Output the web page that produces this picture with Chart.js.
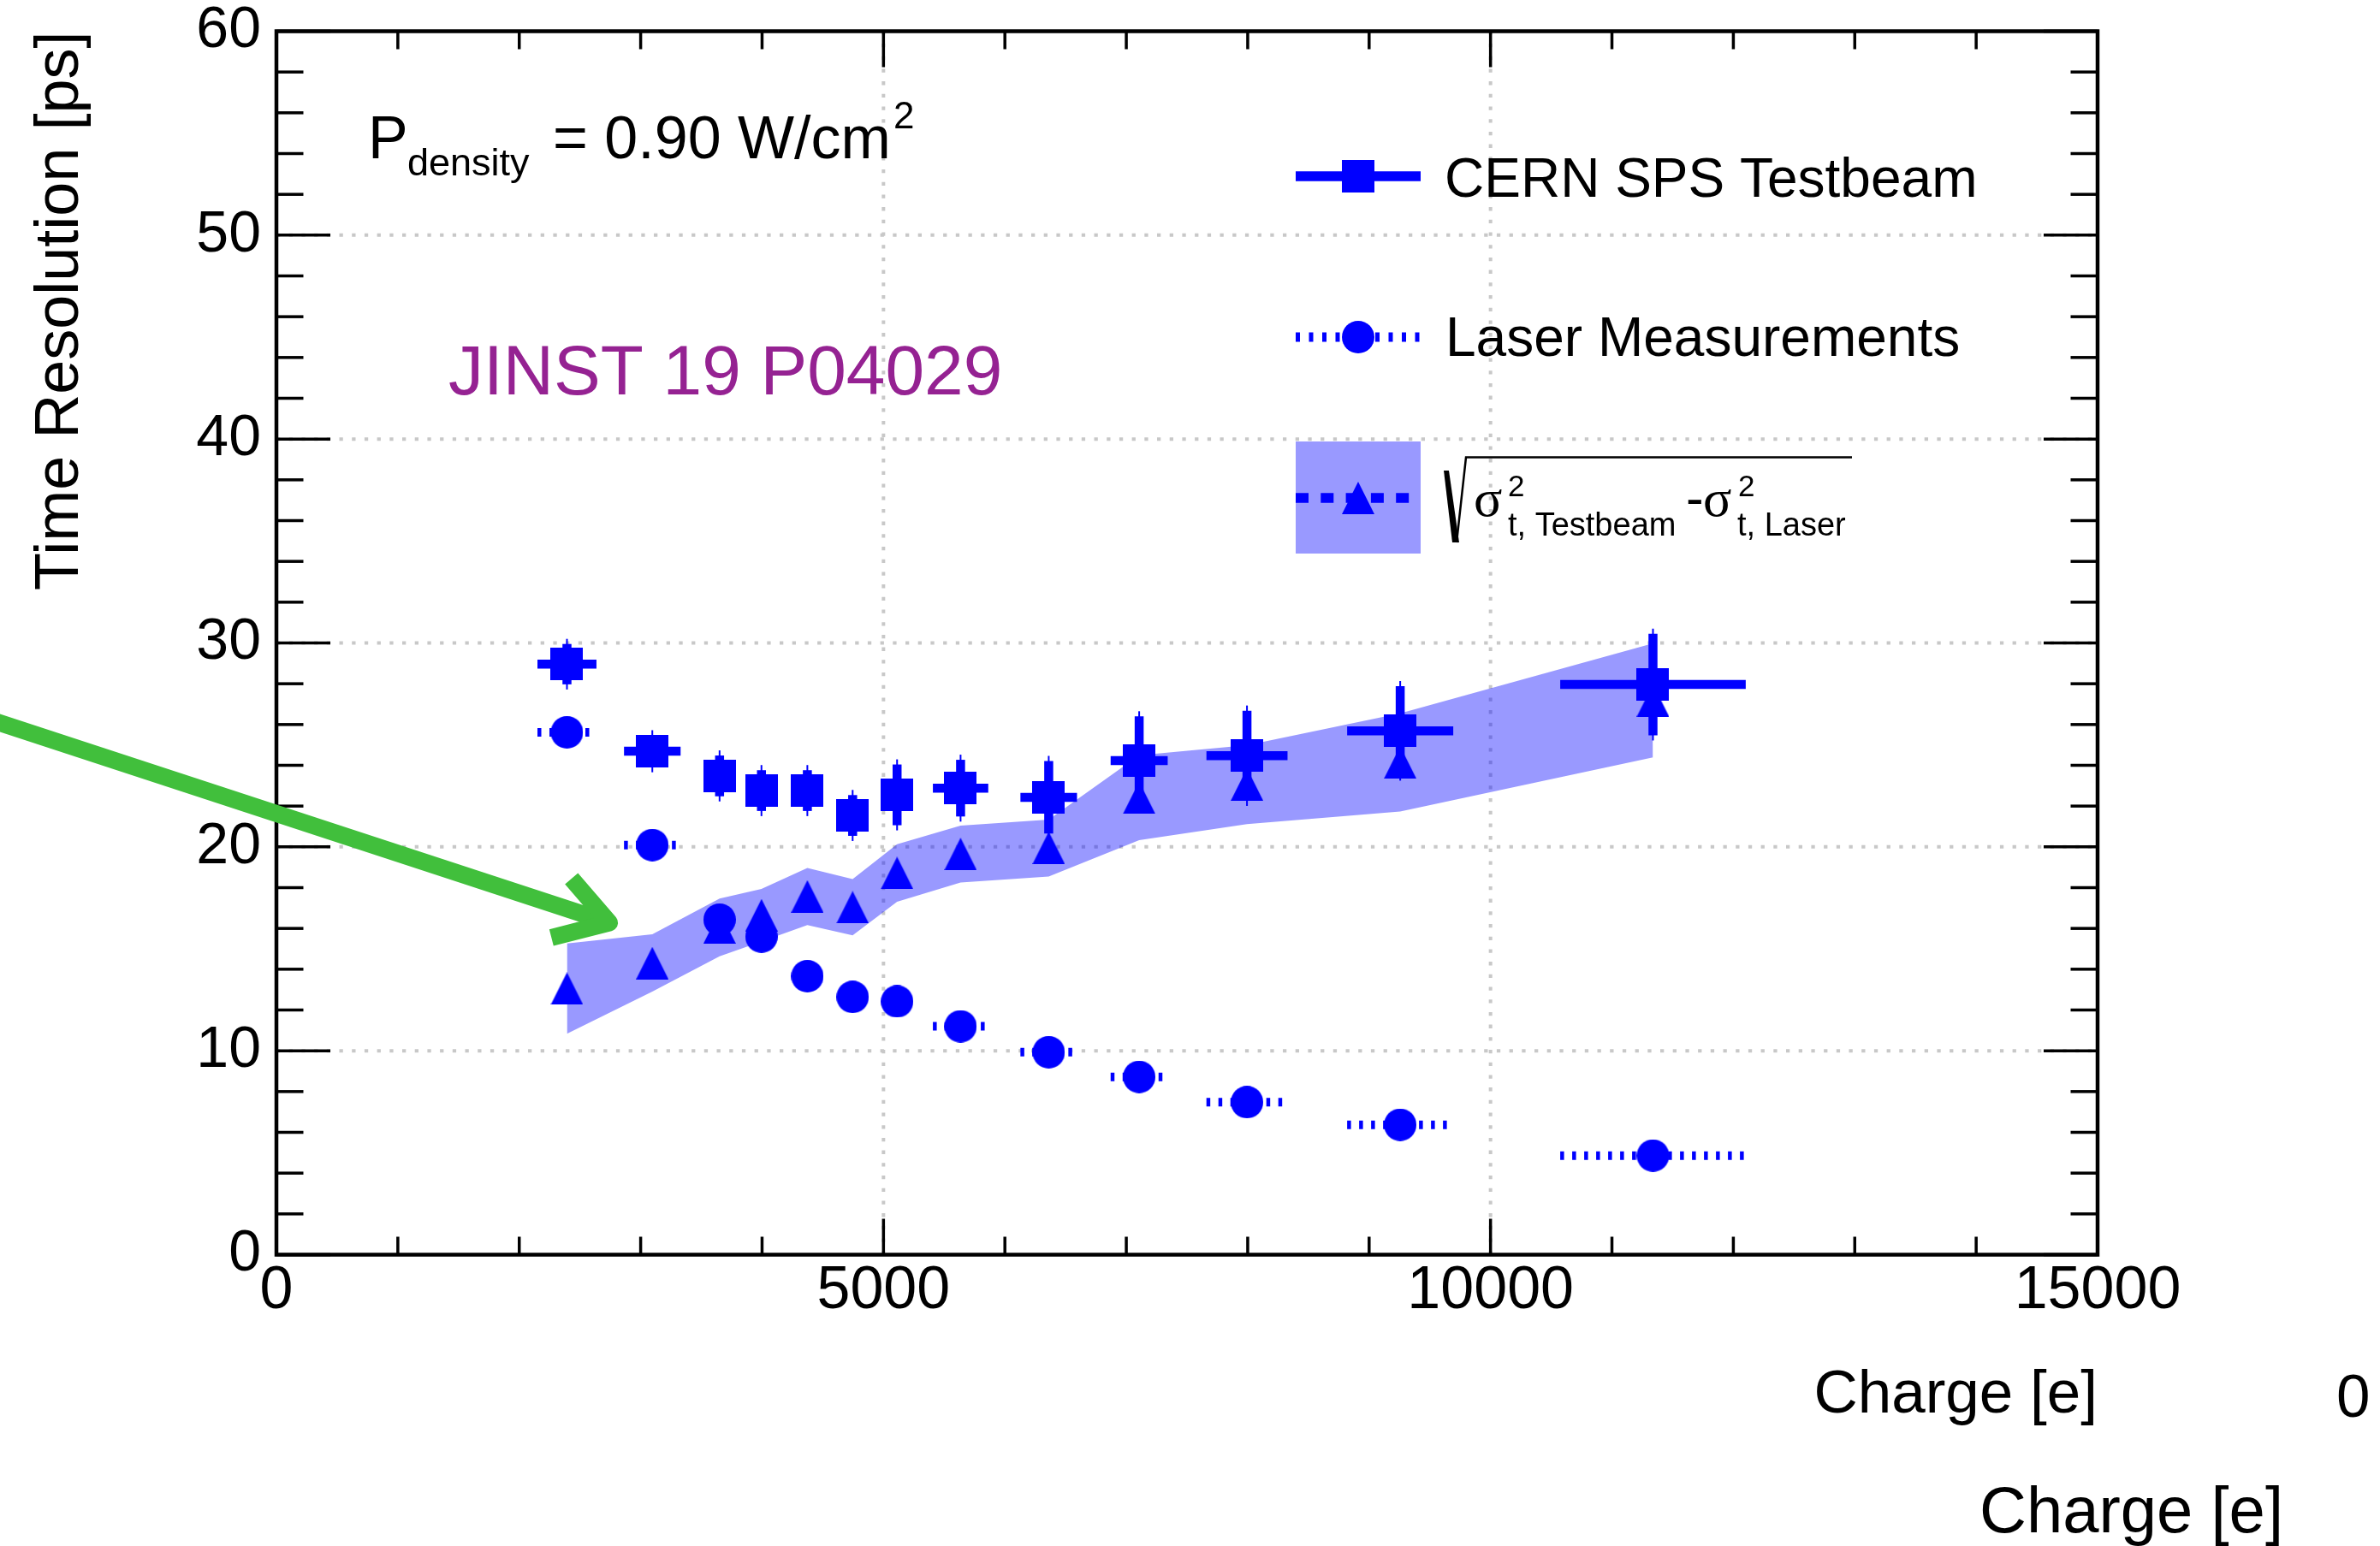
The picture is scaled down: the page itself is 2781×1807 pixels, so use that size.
<!DOCTYPE html>
<html>
<head>
<meta charset="utf-8">
<title>Time Resolution vs Charge</title>
<script src="https://cdn.jsdelivr.net/npm/chart.js@4.4.1/dist/chart.umd.min.js"></script>
<style>
  html, body { margin: 0; padding: 0; background: #fff; }
  #wrap { width: 2781px; height: 1807px; }
</style>
</head>
<body>
<div id="wrap"><canvas id="myChart" width="2781" height="1807"></canvas></div>
<script>
const FONT = '"Liberation Sans", Arial, Helvetica, sans-serif'
const BLUE = '#0000ff'

// charge bins, shared by the three graphs
const charge = [2393, 3096, 3650, 3995, 4373, 4746, 5112, 5635, 6361, 7106, 7994, 9256, 11338]
const chargeErr = [243, 233, 110, 110, 110, 110, 110, 228, 233, 235, 334, 437, 764]

// CERN SPS testbeam
const testbeamRes = [28.96, 24.69, 23.48, 22.76, 22.76, 21.54, 22.55, 22.88, 22.43, 24.23, 24.47, 25.69, 27.96]
const testbeamResErr = [0.99, 0.78, 1.0, 1.0, 1.0, 1.0, 1.49, 1.39, 1.78, 2.17, 2.21, 2.19, 2.49]

// laser measurements
const laserRes = [25.62, 20.09, 16.43, 15.60, 13.66, 12.64, 12.42, 11.20, 9.93, 8.72, 7.48, 6.37, 4.86]

// sqrt(testbeam^2 - laser^2) with its band
const diffRes = [13.05, 14.30, 16.05, 16.65, 17.57, 17.04, 18.72, 19.65, 19.95, 22.41, 23.06, 24.14, 27.18]
const diffLow = [10.84, 12.90, 14.63, 15.36, 16.16, 15.66, 17.31, 18.25, 18.55, 20.33, 21.12, 21.73, 24.39]
const diffHigh = [15.26, 15.71, 17.46, 17.94, 18.97, 18.42, 20.13, 21.04, 21.34, 24.49, 24.99, 26.55, 29.98]

const xTickLabels = [0, 5000, 10000, 15000]
const yTickLabels = [0, 10, 20, 30, 40, 50, 60]

// green annotation arrow, in data coordinates
const arrowTail = [-2500, 26.51]
const arrowTip = [2743, 16.28]

const points = (ys) => charge.map((c, i) => ({x: c, y: ys[i]}))

function makeMarker(shape, w, h) {
    const c = document.createElement('canvas')
    c.width = w
    c.height = h
    const g = c.getContext('2d')
    g.fillStyle = BLUE
    g.beginPath()
    if (shape === 'square') {
        g.rect(0, 0, w, h)
    } else if (shape === 'circle') {
        g.ellipse(w / 2, h / 2, w / 2, h / 2, 0, 0, Math.PI * 2)
    } else {
        g.moveTo(w / 2, 0)
        g.lineTo(w, h)
        g.lineTo(0, h)
        g.closePath()
    }
    g.fill()
    return c
}
const squareMark = makeMarker('square', 38, 38)
const circleMark = makeMarker('circle', 38, 38)
const triangleMark = makeMarker('triangle', 38, 38)

function line(ctx, x1, y1, x2, y2) {
    ctx.beginPath()
    ctx.moveTo(x1, y1)
    ctx.lineTo(x2, y2)
    ctx.stroke()
}

const rootStyle = {
    id: 'rootStyle',
    beforeDatasetsDraw(chart) {
        const {ctx, chartArea: a, scales: {x, y}} = chart
        ctx.save()
        // dotted grid
        ctx.strokeStyle = '#c8c8c8'
        ctx.lineWidth = 4
        ctx.setLineDash([4.3, 10.4])
        xTickLabels.slice(1, -1).forEach(v => {
            const px = x.getPixelForValue(v)
            line(ctx, px, a.bottom, px, a.top)
        })
        yTickLabels.slice(1, -1).forEach(v => {
            const py = y.getPixelForValue(v)
            line(ctx, a.left, py, a.right, py)
        })
        ctx.setLineDash([])

        // error bars
        ctx.strokeStyle = BLUE
        charge.forEach((c, i) => {
            const px = x.getPixelForValue(c)
            const x1 = x.getPixelForValue(c - chargeErr[i])
            const x2 = x.getPixelForValue(c + chargeErr[i])

            const ty = y.getPixelForValue(testbeamRes[i])
            const y1 = y.getPixelForValue(testbeamRes[i] + testbeamResErr[i])
            const y2 = y.getPixelForValue(testbeamRes[i] - testbeamResErr[i])
            ctx.lineWidth = 10.5
            line(ctx, x1, ty, x2, ty)
            line(ctx, px, y1, px, y2)
            ctx.lineWidth = 2
            line(ctx, px, y1 - 6, px, y2 + 6)

            const ly = y.getPixelForValue(laserRes[i])
            ctx.lineWidth = 10
            ctx.setLineDash([4.5, 9.5])
            line(ctx, x1, ly, x2, ly)
            ctx.setLineDash([])
        })
        ctx.restore()
    },
    afterDatasetsDraw(chart) {
        const {ctx, chartArea: a, scales: {x, y}} = chart
        ctx.save()
        ctx.strokeStyle = '#000'
        ctx.lineWidth = 3.5
        for (let v = 0; v <= 15000; v += 1000) {
            const px = x.getPixelForValue(v)
            const len = v % 5000 === 0 ? 42 : 21
            line(ctx, px, a.bottom, px, a.bottom - len)
            line(ctx, px, a.top, px, a.top + len)
        }
        for (let v = 0; v <= 60; v += 2) {
            const py = y.getPixelForValue(v)
            const len = v % 10 === 0 ? 63 : 31.5
            line(ctx, a.left, py, a.left + len, py)
            line(ctx, a.right, py, a.right - len, py)
        }
        ctx.lineWidth = 4.5
        ctx.strokeRect(a.left, a.top, a.right - a.left, a.bottom - a.top)
        ctx.restore()
    },
    afterDraw(chart) {
        const {ctx, scales: {x, y}} = chart
        ctx.save()
        ctx.textAlign = 'left'
        ctx.textBaseline = 'alphabetic'

        // legend
        ctx.strokeStyle = BLUE
        ctx.lineWidth = 11.5
        line(ctx, 1514, 206, 1660, 206)
        ctx.drawImage(squareMark, 1587 - 19, 206 - 19)

        ctx.lineWidth = 11
        ctx.setLineDash([5, 10.5])
        line(ctx, 1514, 394, 1660, 394)
        ctx.setLineDash([])
        ctx.drawImage(circleMark, 1587 - 19, 394 - 19)

        ctx.fillStyle = 'rgba(0, 0, 255, 0.4)'
        ctx.fillRect(1514, 516, 146, 131)
        ctx.lineWidth = 11.5
        ctx.setLineDash([15, 14.3])
        line(ctx, 1514, 582, 1660, 582)
        ctx.setLineDash([])
        ctx.drawImage(triangleMark, 1587 - 19, 582 - 19)

        ctx.fillStyle = '#000'
        ctx.font = `64px ${FONT}`
        ctx.fillText('CERN SPS Testbeam', 1688, 230)
        ctx.fillText('Laser Measurements', 1689, 416)

        // sqrt( sigma^2_t,Testbeam - sigma^2_t,Laser )
        ctx.strokeStyle = '#000'
        ctx.beginPath()
        ctx.moveTo(1687, 550)
        ctx.lineTo(1693, 550)
        ctx.lineTo(1705, 634)
        ctx.lineTo(1697, 634)
        ctx.closePath()
        ctx.fill()
        ctx.lineWidth = 2.5
        ctx.beginPath()
        ctx.moveTo(1702, 634)
        ctx.lineTo(1713, 534.5)
        ctx.lineTo(2164, 534.5)
        ctx.stroke()
        ctx.font = '62px "Liberation Serif", "Times New Roman", serif'
        ctx.fillText('σ', 1722, 603)
        ctx.fillText('σ', 1990, 603)
        ctx.font = `62px ${FONT}`
        ctx.fillText('-', 1970, 603)
        ctx.font = `35px ${FONT}`
        ctx.fillText('2', 1762, 580)
        ctx.fillText('2', 2031, 580)
        ctx.font = `38px ${FONT}`
        ctx.fillText('t, Testbeam', 1762, 626)
        ctx.fillText('t, Laser', 2030, 626)

        // P_density label
        ctx.font = `70px ${FONT}`
        ctx.fillText('P', 430, 185)
        ctx.font = `45px ${FONT}`
        ctx.fillText('density', 476, 205)
        ctx.font = `70px ${FONT}`
        ctx.fillText('= 0.90 W/cm', 646, 185)
        ctx.font = `44px ${FONT}`
        ctx.fillText('2', 1044, 150)

        ctx.fillStyle = '#952292'
        ctx.font = `82px ${FONT}`
        ctx.fillText('JINST 19 P04029', 524, 461)

        // leftover labels below the frame
        ctx.fillStyle = '#000'
        ctx.font = `71px ${FONT}`
        ctx.fillText('0', 2730, 1656)
        ctx.textAlign = 'right'
        ctx.font = `76px ${FONT}`
        ctx.fillText('Charge [e]', 2668, 1791)

        // green arrow
        const tail = {x: x.getPixelForValue(arrowTail[0]), y: y.getPixelForValue(arrowTail[1])}
        const tip = {x: x.getPixelForValue(arrowTip[0]), y: y.getPixelForValue(arrowTip[1])}
        const back = Math.atan2(tail.y - tip.y, tail.x - tip.x)
        ctx.strokeStyle = '#41bf3c'
        ctx.lineWidth = 20
        ctx.lineCap = 'butt'
        ctx.lineJoin = 'round'
        line(ctx, tail.x, tail.y, tip.x, tip.y)
        ctx.beginPath()
        ctx.moveTo(tip.x + 68 * Math.cos(back + 0.543), tip.y + 68 * Math.sin(back + 0.543))
        ctx.lineTo(tip.x, tip.y)
        ctx.lineTo(tip.x + 70 * Math.cos(back - 0.567), tip.y + 70 * Math.sin(back - 0.567))
        ctx.stroke()
        ctx.restore()
    }
}

const ctx = document.getElementById('myChart')

new Chart(ctx, {
    type: 'scatter',
    data: {
        datasets: [
            {
                label: 'CERN SPS Testbeam',
                data: points(testbeamRes),
                pointStyle: squareMark,
                pointRadius: 19,
                order: 1
            },
            {
                label: 'Laser Measurements',
                data: points(laserRes),
                pointStyle: circleMark,
                pointRadius: 19,
                order: 2
            },
            {
                label: 'sqrt(testbeam^2 - laser^2)',
                data: points(diffRes),
                pointStyle: triangleMark,
                pointRadius: 19,
                order: 3
            },
            {
                type: 'line',
                label: 'band high',
                data: points(diffHigh),
                pointRadius: 0,
                borderWidth: 0,
                borderColor: 'rgba(0,0,0,0)',
                fill: false,
                order: 4
            },
            {
                type: 'line',
                label: 'band low',
                data: points(diffLow),
                pointRadius: 0,
                borderWidth: 0,
                borderColor: 'rgba(0,0,0,0)',
                backgroundColor: 'rgba(0, 0, 255, 0.4)',
                fill: '-1',
                order: 4
            }
        ]
    },
    options: {
        responsive: false,
        animation: false,
        devicePixelRatio: 1,
        layout: { padding: { left: 0, top: 36.5, right: 330, bottom: 0 } },
        plugins: {
            legend: { display: false },
            tooltip: { enabled: false }
        },
        scales: {
            x: {
                type: 'linear',
                min: 0,
                max: 15000,
                grid: { display: false, drawTicks: false },
                border: { display: false },
                afterBuildTicks: s => { s.ticks = xTickLabels.map(v => ({value: v})) },
                afterFit: s => { s.height = 340.5; s.paddingLeft = 0; s.paddingRight = 0 },
                ticks: {
                    autoSkip: false,
                    maxRotation: 0,
                    padding: 8,
                    color: '#000',
                    font: { family: FONT, size: 70, lineHeight: 1 },
                    callback: v => String(v)
                },
                title: {
                    display: true,
                    text: 'Charge [e]',
                    align: 'end',
                    color: '#000',
                    font: { family: FONT, size: 71, lineHeight: 1 },
                    padding: { top: 0, bottom: 140 }
                }
            },
            y: {
                type: 'linear',
                min: 0,
                max: 60,
                grid: { display: false, drawTicks: false },
                border: { display: false },
                afterBuildTicks: s => { s.ticks = yTickLabels.map(v => ({value: v})) },
                afterFit: s => { s.width = 323; s.paddingTop = 0; s.paddingBottom = 0 },
                ticks: {
                    autoSkip: false,
                    padding: 18,
                    color: '#000',
                    font: { family: FONT, size: 68, lineHeight: 1 },
                    callback: v => String(v)
                },
                title: {
                    display: true,
                    text: 'Time Resolution [ps]',
                    align: 'end',
                    color: '#000',
                    font: { family: FONT, size: 72, lineHeight: 1 },
                    padding: { top: 35, bottom: 0 }
                }
            }
        }
    },
    plugins: [rootStyle]
})
</script>
</body>
</html>
